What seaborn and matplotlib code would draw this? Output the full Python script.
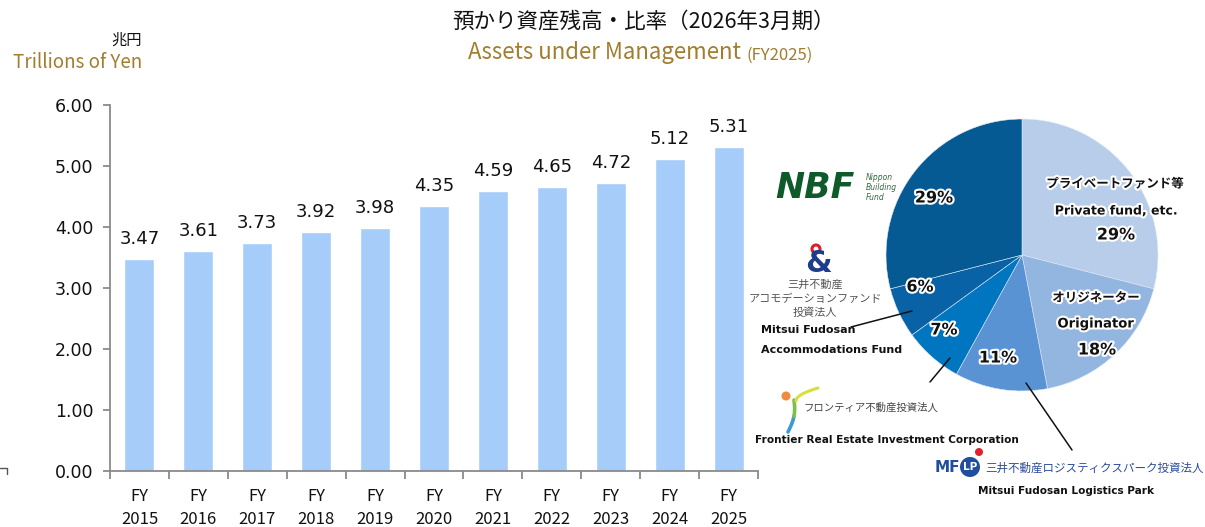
import matplotlib
matplotlib.use("Agg")
import matplotlib.pyplot as plt
import matplotlib.patheffects as pe
from matplotlib.patches import Ellipse
from matplotlib.lines import Line2D
import seaborn as sns
import pandas as pd
import numpy as np

# ---------------- data ----------------
years = ["2015", "2016", "2017", "2018", "2019", "2020", "2021", "2022", "2023", "2024", "2025"]
aum = [3.47, 3.61, 3.73, 3.92, 3.98, 4.35, 4.59, 4.65, 4.72, 5.12, 5.31]
xlabels = ["FY\n" + y for y in years]

pie_names = ["Private fund, etc.", "Originator", "Mitsui Fudosan Logistics Park",
             "Frontier Real Estate Investment Corporation",
             "Mitsui Fudosan Accommodations Fund", "Nippon Building Fund"]
pie_share = [29, 18, 11, 7, 6, 29]
pie_pct = ["29%", "18%", "11%", "7%", "6%", "29%"]
pie_colors = ["#B8CDE9", "#93B6E1", "#5A93D4", "#0076C0", "#0A62A6", "#055A94"]

title_jp = "預かり資産残高・比率（2026年3月期）"
title_en = "Assets under Management"
title_en2 = "(FY2025)"
unit_jp = "兆円"
unit_en = "Trillions of Yen"

# ---------------- style ----------------
sns.set_style("white")
JP = ["Noto Sans CJK JP", "DejaVu Sans"]
plt.rcParams["font.family"] = ["DejaVu Sans", "Noto Sans CJK JP"]

W, H = 1205, 527
fig = plt.figure(figsize=(W / 100, H / 100), dpi=100)


def fx(x):
    return x / W


def fy(y):
    return 1 - y / H


def dot(x, y, rad, **kw):
    fig.add_artist(Ellipse((fx(x), fy(y)), 2 * rad / W, 2 * rad / H,
                           transform=fig.transFigure, **kw))


GOLD = "#A27D2E"
BAR = "#A6CDFA"
AXC = "#8A8A8A"

# ---------------- bar chart ----------------
ax = fig.add_axes([fx(110), fy(471), fx(758) - fx(110), fy(105) - fy(471)])
df = pd.DataFrame({"year": xlabels, "value": aum})
sns.barplot(data=df, x="year", y="value", color=BAR, saturation=1, width=0.51, ax=ax)
ax.set_xlim(-0.5, len(years) - 0.5)
ax.set_ylim(0, 6)
ax.set_xlabel("")
ax.set_ylabel("")
for s in ["top", "right"]:
    ax.spines[s].set_visible(False)
for s in ["left", "bottom"]:
    ax.spines[s].set_color(AXC)
    ax.spines[s].set_linewidth(1.3)
ax.set_yticks(np.arange(0, 7, 1))
ax.set_yticklabels([f"{v:.2f}" for v in np.arange(0, 7, 1)], fontsize=12.5, color="#111111")
ax.tick_params(axis="y", direction="out", length=5, width=1.3, color=AXC, pad=7, left=True)
ax.set_xticks(np.arange(len(years)))
ax.set_xticklabels(xlabels, fontsize=12, family=JP, linespacing=1.5, color="#111111")
ax.tick_params(axis="x", which="major", length=0, pad=12)
ax.set_xticks(np.arange(-0.5, len(years), 1), minor=True)
ax.tick_params(axis="x", which="minor", direction="out", length=6, width=1.3, color=AXC, bottom=True)
ax.bar_label(ax.containers[0], labels=[f"{v:.2f}" for v in aum], padding=8, fontsize=13, color="#111111")

# ---------------- titles ----------------
fig.text(fx(643), fy(22), title_jp, ha="center", va="center", fontsize=15.5, family=JP, color="#111111")
fig.text(fx(741), fy(53), title_en, ha="right", va="center", fontsize=16, family=JP, color=GOLD)
fig.text(fx(746), fy(55), title_en2, ha="left", va="center", fontsize=12, family=JP, color=GOLD)
fig.text(fx(127), fy(40), unit_jp, ha="center", va="center", fontsize=11, family=JP, color="#111111")
fig.text(fx(78), fy(62), unit_en, ha="center", va="center", fontsize=13.5, family=JP, color=GOLD)

# ---------------- pie ----------------
cx, cy, r = 1022, 255, 136
pax = fig.add_axes([fx(cx - r), fy(cy + r), 2 * r / W, 2 * r / H])
wedges, _ = pax.pie(pie_share, colors=pie_colors, startangle=90, counterclock=False,
                    radius=1, wedgeprops=dict(linewidth=0.4, edgecolor="#dfe8f4"))
pax.set_xlim(-1, 1)
pax.set_ylim(-1, 1)
pax.set_aspect("auto")
pax.axis("off")

glow = [pe.withStroke(linewidth=3, foreground="white")]
pct_pos = [(1116, 235), (1097, 350), (998, 358), (944, 330), (920, 287), (934, 198)]
for (x, y), t in zip(pct_pos, pie_pct):
    fig.text(fx(x), fy(y), t, ha="center", va="center", fontsize=11.5, fontweight="bold",
             color="#111111", path_effects=glow)

fig.text(fx(1115), fy(184), "プライベートファンド等", ha="center", va="center", fontsize=9,
         fontweight="bold", family=JP, color="#111111", path_effects=glow)
fig.text(fx(1116), fy(211), "Private fund, etc.", ha="center", va="center", fontsize=9,
         fontweight="bold", color="#111111", path_effects=glow)
fig.text(fx(1096), fy(298), "オリジネーター", ha="center", va="center", fontsize=9,
         fontweight="bold", family=JP, color="#111111", path_effects=glow)
fig.text(fx(1096), fy(324), "Originator", ha="center", va="center", fontsize=9.5,
         fontweight="bold", color="#111111", path_effects=glow)

# leader lines
for (x1, y1), (x2, y2) in [((851, 327), (912, 311)), ((930, 382), (950, 358)), ((1026, 383), (1072, 450))]:
    fig.add_artist(Line2D([fx(x1), fx(x2)], [fy(y1), fy(y2)], color="#111111", lw=1.1))

# NBF logo
fig.text(fx(775), fy(188), "NBF", ha="left", va="center", fontsize=25, fontweight="bold",
         style="italic", color="#0E5A2A")
for i, t in enumerate(["Nippon", "Building", "Fund"]):
    fig.text(fx(866), fy(177 + 10.5 * i), t, ha="left", va="center", fontsize=5.5,
             style="italic", color="#2E6B3E")

# Accommodations logo
fig.text(fx(818), fy(263), "&", ha="center", va="center", fontsize=22, fontweight="bold", color="#1E3C8C")
dot(816, 249, 4, facecolor="none", edgecolor="#D8222A", lw=2.2)
for i, t in enumerate(["三井不動産", "アコモデーションファンド", "投資法人"]):
    fig.text(fx(815), fy(285 + 14 * i), t, ha="center", va="center", fontsize=8,
             family=JP, color="#555555")
fig.text(fx(761), fy(330), "Mitsui Fudosan", ha="left", va="center", fontsize=8,
         fontweight="bold", color="#111111")
fig.text(fx(761), fy(350), "Accommodations Fund", ha="left", va="center", fontsize=8,
         fontweight="bold", color="#111111")

# Frontier logo
tt = np.linspace(0, 1, 40)
xs = 788 + 6 * tt + 3 * np.sin(np.pi * tt)
ys = 432 - 32 * tt
fig.add_artist(Line2D(fx(xs[:20]), fy(ys[:20]), color="#3A9BD8", lw=2.6, solid_capstyle="round"))
fig.add_artist(Line2D(fx(xs[19:]), fy(ys[19:]), color="#7CC04A", lw=2.6, solid_capstyle="round"))
fig.add_artist(Line2D(fx(796 + 22 * tt), fy(401 - 13 * np.sqrt(tt)), color="#D8DE3A", lw=2.2,
                      solid_capstyle="round"))
dot(786, 396, 4.5, facecolor="#F08A3C", edgecolor="none")
fig.text(fx(803), fy(408), "フロンティア不動産投資法人", ha="left", va="center", fontsize=7.5,
         family=JP, color="#444444")
fig.text(fx(755), fy(440), "Frontier Real Estate Investment Corporation", ha="left", va="center",
         fontsize=7.6, fontweight="bold", color="#111111")

# MFLP logo
fig.text(fx(935), fy(468), "MF", ha="left", va="center", fontsize=11, fontweight="bold", color="#1F4E9E")
dot(970, 467, 10, facecolor="#1F4E9E", edgecolor="none")
fig.text(fx(970), fy(467), "LP", ha="center", va="center", fontsize=7.5, fontweight="bold", color="white")
dot(979, 452, 4, facecolor="#E02030", edgecolor="none")
fig.text(fx(985), fy(468), "三井不動産ロジスティクスパーク投資法人", ha="left", va="center", fontsize=8.3,
         family=JP, color="#2B4C9B")
fig.text(fx(1066), fy(491), "Mitsui Fudosan Logistics Park", ha="center", va="center", fontsize=7.6,
         fontweight="bold", color="#111111")

# small stray corner mark at left edge
fig.add_artist(Line2D([fx(0), fx(7), fx(7)], [fy(468), fy(468), fy(474)], color="#555555", lw=1))

fig.savefig("out.png", dpi=100)
